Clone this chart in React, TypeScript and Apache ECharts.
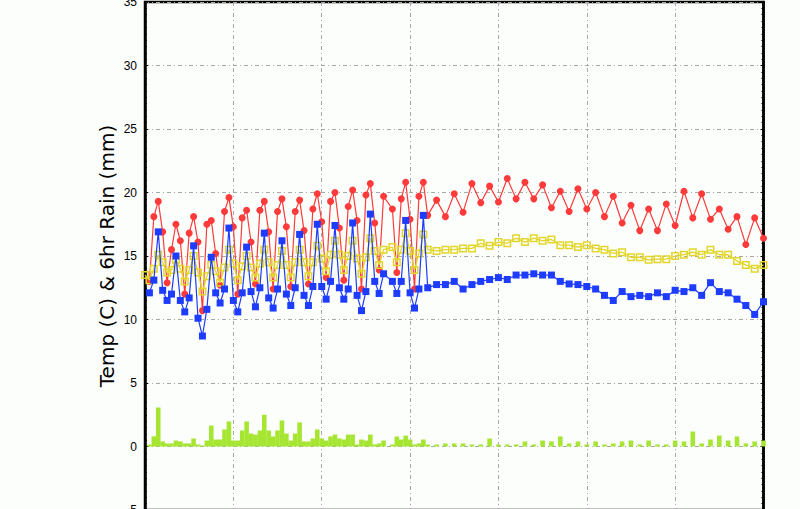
import React, { useEffect, useRef } from "react";
import * as echarts from "echarts";

// forecast hour of each record (6-hourly to 384 h, 12-hourly after)
const hours = [
  0, 6, 12, 18, 24, 30, 36, 42, 48, 54, 60, 66, 72, 78, 84, 90, 96, 102, 108, 114,
  120, 126, 132, 138, 144, 150, 156, 162, 168, 174, 180, 186, 192, 198, 204, 210,
  216, 222, 228, 234, 240, 246, 252, 258, 264, 270, 276, 282, 288, 294, 300, 306,
  312, 318, 324, 336, 342, 348, 354, 360, 366, 372, 378, 384,
  396, 408, 420, 432, 444, 456, 468, 480, 492, 504, 516, 528, 540, 552, 564, 576,
  588, 600, 612, 624, 636, 648, 660, 672, 684, 696, 708, 720, 732, 744, 756, 768,
  780, 792, 804, 816, 828, 840,
];

const maxTemp = [
  null, 13.0, 18.1, 19.3, 16.9, 12.9, 15.5, 17.5, 16.2, 12.0, 16.8, 18.1, 16.1, 10.7, 17.5, 17.8, 15.2, 12.7, 18.5, 19.6,
  17.3, 12.0, 18.0, 18.6, 16.1, 12.8, 18.6, 19.3, 16.9, 12.4, 18.5, 19.5, 17.3, 12.6, 18.5, 19.4,
  17.0, 12.8, 18.7, 19.9, 17.7, 13.3, 19.3, 20.0, 17.2, 13.1, 18.9, 20.2, 17.8, 12.4, 19.8, 20.7,
  17.6, 13.9, 19.7, 18.7, 13.7, 19.5, 20.8, 17.9, 12.4, 19.7, 20.8, 18.2,
  19.4, 18.1, 19.9, 18.45, 20.7, 19.2, 20.5, 19.25, 21.1, 19.5, 20.8, 19.5, 20.6, 18.8, 20.1, 18.5,
  20.3, 18.7, 20.0, 18.1, 19.7, 17.6, 19.0, 17.0, 18.7, 17.0, 19.1, 17.4, 20.1, 18.0, 19.9, 17.9,
  18.7, 17.1, 18.1, 15.9, 18.0, 16.4,
];

const minTemp = [
  null, 12.1, 13.1, 16.9, 12.3, 11.5, 12.0, 15.0, 11.5, 10.6, 11.7, 15.8, 10.1, 8.7, 10.8, 14.9, 12.1, 11.3, 12.4, 17.2,
  11.5, 10.6, 12.1, 15.7, 12.2, 11.0, 12.5, 16.8, 11.7, 10.9, 12.4, 16.2, 12.0, 11.1, 12.5, 16.7,
  11.9, 11.1, 12.6, 17.5, 12.6, 11.6, 13.0, 17.4, 12.5, 11.6, 12.4, 17.6, 11.9, 10.7, 12.2, 18.3,
  13.0, 12.05, 13.6, 13.0, 12.05, 13.0, 17.8, 12.1, 10.9, 12.4, 18.2, 12.5,
  12.75, 12.75, 13.0, 12.4, 12.75, 13.0, 13.15, 13.3, 13.15, 13.5, 13.5, 13.6, 13.5, 13.5, 13.0, 12.8,
  12.75, 12.6, 12.4, 11.9, 11.5, 12.2, 11.8, 11.9, 11.8, 12.1, 11.8, 12.3, 12.2, 12.5, 11.9, 12.9,
  12.2, 12.1, 11.6, 11.1, 10.4, 11.4,
];

const meanTemp = [
  13.5, 13.1, 14.0, 15.1, 14.5, 13.7, 13.9, 14.7, 14.0, 13.0, 13.9, 15.0, 13.7, 12.2, 13.4, 14.3, 13.8, 12.9, 14.1, 15.5,
  14.4, 13.1, 14.2, 15.0, 14.1, 13.3, 14.4, 15.5, 14.5, 13.3, 14.3, 15.4, 14.3, 13.3, 14.5, 15.5,
  14.5, 13.4, 14.5, 15.8, 14.8, 13.8, 15.1, 16.2, 15.1, 13.9, 15.0, 16.2, 14.8, 13.6, 14.9, 16.4,
  15.4, 14.3, 15.5, 15.7, 14.5, 15.5, 16.8, 15.4, 13.9, 15.2, 16.7, 15.5,
  15.4, 15.5, 15.5, 15.6, 15.6, 16.0, 15.8, 16.1, 16.0, 16.4, 16.1, 16.4, 16.2, 16.3, 15.85, 15.85,
  15.7, 15.85, 15.6, 15.5, 15.2, 15.3, 14.9, 14.9, 14.7, 14.75, 14.75, 15.0, 15.1, 15.3, 15.1, 15.5,
  15.1, 15.1, 14.6, 14.3, 14.0, 14.3,
];

const rain6hr = [
  null, 0.15, 0.8, 3.07, 0.4, 0.24, 0.24, 0.47, 0.4, 0.24, 0.24, 0.63, 0.16, 0.08, 0.47, 1.65, 0.55, 0.55, 1.34, 1.97,
  0.47, 0.47, 1.26, 1.97, 1.02, 0.94, 1.26, 2.5, 1.26, 0.79, 1.26, 2.05, 1.02, 0.47, 1.02, 1.9,
  0.4, 0.4, 0.63, 1.34, 0.63, 0.47, 0.79, 0.94, 0.63, 0.55, 0.94, 0.94, 0.16, 0.55, 0.47, 0.94,
  0.16, 0.24, 0.47, 0.16, 0.79, 0.55, 0.86, 0.55, 0.16, 0.24, 0.55, 0.16,
  0.16, 0.24, 0.24, 0.24, 0.16, 0.16, 0.63, 0.16, 0.16, 0.16, 0.4, 0.16, 0.47, 0.4, 0.79, 0.24,
  0.4, 0.16, 0.4, 0.16, 0.24, 0.4, 0.47, 0.16, 0.47, 0.16, 0.16, 0.47, 0.4, 1.18, 0.24, 0.55,
  0.86, 0.47, 0.79, 0.24, 0.4, 0.47,
];

const yTitle = "Temp (C) & 6hr Rain (mm)";

const RED = "#ff3a3a";
const BLUE = "#1e3cff";
const YELLOW = "#e2d62a";
const GREEN = "#a6e632";

const pairs = (vals: (number | null)[]) =>
  hours.map((h, i) => [h, vals[i] === null ? "-" : vals[i]]);

export default function App() {
  const ref = useRef<HTMLDivElement>(null);
  useEffect(() => {
    if (!ref.current) return;
    const chart = echarts.init(ref.current, undefined, { renderer: "svg" });
    const gridLine = { show: true, lineStyle: { color: "#a8a8a8", width: 1, type: [4, 3, 1, 3] } };
    const yCommon = {
      type: "value",
      min: -5,
      max: 35,
      interval: 5,
      axisLine: { show: true, onZero: false, lineStyle: { color: "#000", width: 2.5 } },
      axisTick: { show: true, inside: true, length: 3, lineStyle: { color: "#000", width: 1 } },
      minorTick: { show: true, splitNumber: 10, length: 2, lineStyle: { color: "#000", width: 1 } },
    };
    chart.setOption({
      animation: false,
      backgroundColor: "#fcfefc",
      grid: {
        left: 145,
        right: 36.5,
        top: 2,
        height: 508,
        containLabel: false,
        outerBoundsMode: "none",
        show: true,
        borderColor: "#000",
        borderWidth: 2.5,
        backgroundColor: "transparent",
      },
      xAxis: {
        type: "value",
        min: 0,
        max: 840,
        interval: 120,
        axisLabel: { show: false },
        axisTick: { show: false },
        axisLine: { show: true, onZero: false, lineStyle: { color: "#000", width: 2.5 } },
        splitLine: gridLine,
      },
      yAxis: [
        {
          ...yCommon,
          position: "left",
          axisLabel: { color: "#000", fontSize: 12, fontFamily: "Liberation Sans", margin: 8 },
          splitLine: gridLine,
        },
        {
          ...yCommon,
          position: "right",
          axisLabel: { show: false },
          splitLine: { show: false },
        },
      ],
      graphic: [
        {
          type: "text",
          x: 107,
          y: 256,
          rotation: Math.PI / 2,
          style: {
            text: yTitle,
            font: '20px "DejaVu Sans"',
            fill: "#000",
            textAlign: "center",
            textVerticalAlign: "middle",
          },
        },
      ],
      series: [
        {
          type: "bar",
          data: pairs(rain6hr),
          barWidth: 4.6,
          itemStyle: { color: GREEN },
          z: 1,
        },
        {
          type: "line",
          data: pairs(maxTemp),
          symbol: "circle",
          symbolSize: 7,
          showAllSymbol: true,
          lineStyle: { color: RED, width: 1.2 },
          itemStyle: { color: RED },
          z: 2,
        },
        {
          type: "line",
          data: pairs(meanTemp),
          symbol: "rect",
          symbolSize: 6.5,
          showAllSymbol: true,
          lineStyle: { color: YELLOW, width: 1.3 },
          itemStyle: { color: "rgba(0,0,0,0)", borderColor: YELLOW, borderWidth: 1.5 },
          z: 3,
        },
        {
          type: "line",
          data: pairs(minTemp),
          symbol: "rect",
          symbolSize: 7,
          showAllSymbol: true,
          lineStyle: { color: BLUE, width: 1.2 },
          itemStyle: { color: BLUE },
          z: 4,
        },
      ],
    });
    return () => chart.dispose();
  }, []);
  return (
    <div
      ref={ref}
      style={{ position: "fixed", left: 0, top: 0, width: 800, height: 509 }}
    />
  );
}
